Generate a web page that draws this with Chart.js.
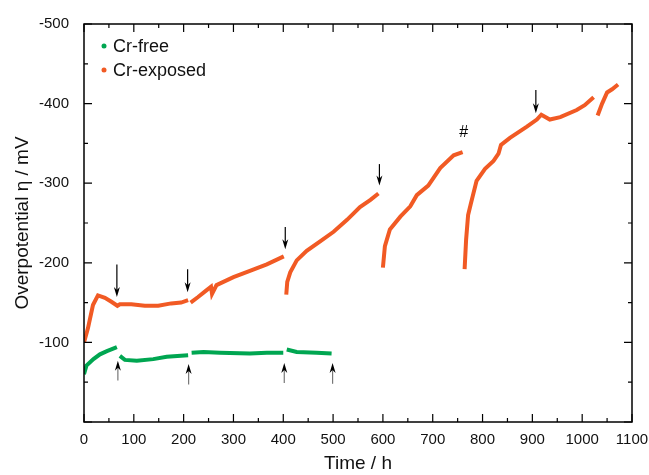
<!DOCTYPE html>
<html>
<head>
<meta charset="utf-8">
<script src="https://cdn.jsdelivr.net/npm/chart.js@4/dist/chart.umd.min.js"></script>
<style>
  html, body { margin: 0; padding: 0; background: #fff; }
  #wrap { width: 649px; height: 475px; }
</style>
</head>
<body>
<div id="wrap"><canvas id="grafico"></canvas></div>
<script>
// tempo (h) e sobrepotencial (mV); null = interrupção da curva
const crFreeTime  = [0, 5, 19, 32, 46, 66, 68, 72, 82, 106, 139, 166, 209, 212, 216, 240, 273, 333, 367, 400, 403, 407, 427, 467, 497]
const crFreeValue = [-60, -71, -79, -85, -89, -94, null, -83, -78, -77, -79, -82, -84, null, -87, -88, -87, -86, -87, -87, null, -91, -88, -87, -86]

const crExpTime = [0, 8, 18, 28, 42, 55, 67, 72, 95, 122, 149, 175, 195, 209, 211,
    214, 229, 245, 255, 257, 266, 300, 333, 367, 401, 403,
    406, 408, 414, 427, 447, 474, 501, 528, 554, 575, 591, 595,
    600, 604, 614, 635, 655, 668, 691, 715, 742, 760, 762,
    764, 767, 771, 776, 788, 805, 822, 832, 837, 855, 889, 909, 918, 935, 956, 989, 1005, 1023, 1027,
    1031, 1040, 1050, 1060, 1072]
const crExpValue = [-100, -118, -147, -159, -156, -151, -146, -148, -148, -146, -146, -149, -150, -153, null,
    -150, -157, -165, -170, -161, -172, -182, -190, -198, -208, null,
    -160, -176, -188, -203, -215, -227, -239, -254, -270, -279, -287, null,
    -194, -221, -242, -258, -271, -285, -297, -319, -335, -339, null,
    -192, -229, -260, -273, -303, -318, -328, -337, -348, -357, -371, -380, -386, -380, -383, -392, -398, -408, null,
    -385, -400, -414, -418, -424]

const seriesLabels = ['Cr-free', 'Cr-exposed']
const seriesColors = ['#00a651', '#f15a24']

// setas: [tempo, valor da cauda, valor da ponta]
const downArrows = [[66, -198, -157], [208, -192, -163], [404, -245, -217], [593, -324, -297], [907, -417, -388]]
const upArrows = [[68, -52, -77], [210, -47, -73], [402, -49, -74], [499, -48, -74]]
const hashMark = [762, -364]

const xTicks = { min: 0, max: 1100, step: 100 }
const yTicks = { min: -500, max: 0, step: 100 }

function pontos(tempos, valores) {
    return tempos.map((t, i) => ({ x: t, y: valores[i] }))
}

const fonte = "'Liberation Sans', Arial, sans-serif"
const fonteTicks = "'Liberation Sans Narrow', 'Arial Narrow', 'Liberation Sans', Arial, sans-serif"

/* ticks para dentro, moldura, setas e legenda */
const extras = {
    id: 'extras',
    afterDraw(chart) {
        const ctx = chart.ctx
        const a = chart.chartArea
        const sx = chart.scales.x
        const sy = chart.scales.y
        ctx.save()
        ctx.strokeStyle = '#000'
        ctx.lineWidth = 1.5
        ctx.strokeRect(a.left, a.top, a.right - a.left, a.bottom - a.top)

        ctx.lineWidth = 1.2
        for (let t = xTicks.min; t <= xTicks.max; t += xTicks.step / 2) {
            const px = sx.getPixelForValue(t)
            const len = t % xTicks.step === 0 ? 8 : 4
            ctx.beginPath()
            ctx.moveTo(px, a.bottom); ctx.lineTo(px, a.bottom - len)
            ctx.moveTo(px, a.top); ctx.lineTo(px, a.top + len)
            ctx.stroke()
        }
        for (let v = yTicks.min; v <= yTicks.max; v += yTicks.step / 2) {
            const py = sy.getPixelForValue(v)
            const len = v % yTicks.step === 0 ? 8 : 4
            ctx.beginPath()
            ctx.moveTo(a.left, py); ctx.lineTo(a.left + len, py)
            ctx.moveTo(a.right, py); ctx.lineTo(a.right - len, py)
            ctx.stroke()
        }

        function seta(lista, cor) {
            lista.forEach(([t, v0, v1]) => {
                const px = sx.getPixelForValue(t)
                const y0 = sy.getPixelForValue(v0)
                const y1 = sy.getPixelForValue(v1)
                const dir = y1 > y0 ? 1 : -1
                ctx.strokeStyle = cor
                ctx.fillStyle = '#000'
                ctx.lineWidth = 1.2
                ctx.beginPath()
                ctx.moveTo(px, y0); ctx.lineTo(px, y1 - dir * 4)
                ctx.stroke()
                ctx.beginPath()
                ctx.moveTo(px, y1)
                ctx.lineTo(px - 3, y1 - dir * 10)
                ctx.lineTo(px, y1 - dir * 7)
                ctx.lineTo(px + 3, y1 - dir * 10)
                ctx.closePath()
                ctx.fill()
            })
        }
        seta(downArrows, '#000')
        seta(upArrows, '#777')

        ctx.fillStyle = '#000'
        ctx.font = '16px ' + fonte
        ctx.textAlign = 'center'
        ctx.textBaseline = 'middle'
        ctx.fillText('#', sx.getPixelForValue(hashMark[0]), sy.getPixelForValue(hashMark[1]))

        // legenda
        ctx.textAlign = 'left'
        ctx.font = '18px ' + fonte
        seriesLabels.forEach((lab, i) => {
            const y = 46 + i * 24
            ctx.fillStyle = seriesColors[i]
            ctx.beginPath()
            ctx.arc(104, y, 2.5, 0, Math.PI * 2)
            ctx.fill()
            ctx.fillStyle = '#111'
            ctx.fillText(lab, 113, y + 1)
        })
        ctx.restore()
    }
}

const grafico = new Chart(document.querySelector('#grafico'), {
    type: 'line',
    data: {
        datasets: [{
            label: seriesLabels[0],
            data: pontos(crFreeTime, crFreeValue),
            borderColor: seriesColors[0],
            backgroundColor: seriesColors[0],
            borderWidth: 4,
            pointRadius: 0,
            spanGaps: false,
            tension: 0
        }, {
            label: seriesLabels[1],
            data: pontos(crExpTime, crExpValue),
            borderColor: seriesColors[1],
            backgroundColor: seriesColors[1],
            borderWidth: 4,
            pointRadius: 0,
            spanGaps: false,
            tension: 0
        }]
    },
    options: {
        responsive: true,
        maintainAspectRatio: false,
        animation: false,
        layout: { padding: { top: 18, right: 17, left: 0, bottom: 0 } },
        plugins: { legend: { display: false }, tooltip: { enabled: false } },
        scales: {
            x: {
                type: 'linear',
                min: xTicks.min,
                max: xTicks.max,
                grid: { display: false, drawTicks: false },
                border: { display: false },
                ticks: {
                    stepSize: xTicks.step,
                    autoSkip: false,
                    maxRotation: 0,
                    padding: 9,
                    color: '#111',
                    font: { family: fonteTicks, size: 15 },
                    callback: v => String(v)
                },
                title: {
                    display: true,
                    text: 'Time / h',
                    color: '#111',
                    font: { family: fonte, size: 19 },
                    padding: { top: 0, bottom: 0 }
                },
                afterFit(scale) {
                    scale.height = 53
                    scale.paddingRight = 0
                }
            },
            y: {
                type: 'linear',
                min: yTicks.min,
                max: yTicks.max,
                reverse: true,
                grid: { display: false, drawTicks: false },
                border: { display: false },
                ticks: {
                    stepSize: yTicks.step,
                    padding: 15,
                    color: '#111',
                    font: { family: fonteTicks, size: 15 },
                    callback: v => v === 0 ? '' : String(v)
                },
                title: {
                    display: true,
                    text: 'Overpotential η / mV',
                    color: '#111',
                    font: { family: fonte, size: 19 },
                    padding: { top: 11, bottom: 0 }
                },
                afterFit(scale) { scale.width = 84 }
            }
        }
    },
    plugins: [extras]
})
</script>
</body>
</html>
